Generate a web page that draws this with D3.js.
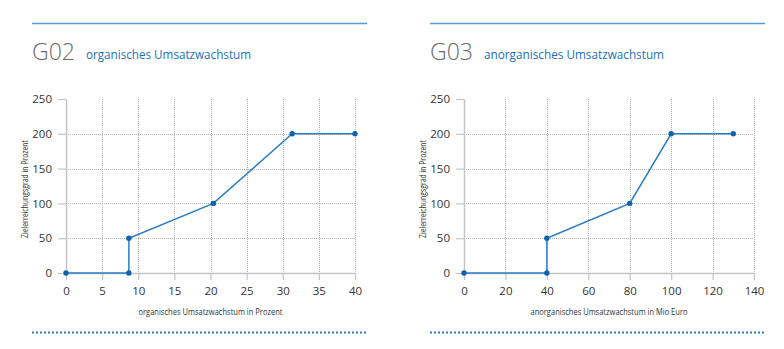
<!DOCTYPE html>
<html><head><meta charset="utf-8">
<script src="https://cdn.jsdelivr.net/npm/d3@7"></script>
<style>
body{margin:0;background:#fff;}
svg{display:block;font-family:"Open Sans","Noto Sans",sans-serif;}
</style></head>
<body><svg id="c" width="784" height="349"></svg>
<script>
// Data
const g02X = [0, 8.7, 8.7, 20.4, 31.3, 40];
const g02Y = [0, 0, 50, 100, 200, 200];
const g03X = [0, 40, 40, 80, 100, 130];
const g03Y = [0, 0, 50, 100, 200, 200];
const g02XTicks = [0, 5, 10, 15, 20, 25, 30, 35, 40];
const g03XTicks = [0, 20, 40, 60, 80, 100, 120, 140];
const yTicks = [0, 50, 100, 150, 200, 250];
const panelCodes = ["G02", "G03"];
const panelTitles = ["organisches Umsatzwachstum", "anorganisches Umsatzwachstum"];
const xTitles = ["organisches Umsatzwachstum in Prozent", "anorganisches Umsatzwachstum in Mio Euro"];
const yTitle = "Zielerreichungsgrad in Prozent";

const svg = d3.select("#c");
const panels = [
  {code: panelCodes[0], title: panelTitles[0], xTitle: xTitles[0], xs: g02X, ys: g02Y, xTicks: g02XTicks, dom: [0, 40],
   left: 32, right: 367, ax0: 66, ax1: 355, subX: 86, subLen: 165, xTitleLen: 144, yTitleX: 25},
  {code: panelCodes[1], title: panelTitles[1], xTitle: xTitles[1], xs: g03X, ys: g03Y, xTicks: g03XTicks, dom: [0, 140],
   left: 430, right: 765, ax0: 464, ax1: 754, subX: 484, subLen: 180, xTitleLen: 157, yTitleX: 423}
];
const blue = "#1b6fbd";
const y = d3.scaleLinear().domain([0, 250]).range([273, 99]);

panels.forEach(p => {
  const g = svg.append("g");
  const x = d3.scaleLinear().domain(p.dom).range([p.ax0, p.ax1]);
  // top rule
  g.append("line").attr("x1", p.left).attr("x2", p.right).attr("y1", 23.5).attr("y2", 23.5)
    .attr("stroke", "#5a9bd3").attr("stroke-width", 1.5);
  // bottom dotted rule
  g.append("line").attr("x1", p.left).attr("x2", p.right - 1).attr("y1", 332.5).attr("y2", 332.5)
    .attr("stroke", "#2a7fd0").attr("stroke-width", 2).attr("stroke-dasharray", "2,2");
  // headings
  g.append("text").attr("x", p.left).attr("y", 60).text(p.code)
    .attr("font-size", 23).attr("font-weight", 300).attr("fill", "#6b6b6b")
    .attr("textLength", 43).attr("lengthAdjust", "spacingAndGlyphs");
  g.append("text").attr("x", p.subX).attr("y", 59).text(p.title)
    .attr("font-size", 12.5).attr("fill", blue)
    .attr("textLength", p.subLen).attr("lengthAdjust", "spacingAndGlyphs");
  // grid
  g.append("g").selectAll("line").data(p.xTicks.filter(d => d > 0)).join("line")
    .attr("x1", d => Math.round(x(d)) + 0.5).attr("x2", d => Math.round(x(d)) + 0.5)
    .attr("y1", y(250)).attr("y2", y(0))
    .attr("stroke", "#b5b5b5").attr("stroke-dasharray", "1,1");
  g.append("g").selectAll("line").data(yTicks.filter(d => d > 0 && d < 250)).join("line")
    .attr("x1", p.ax0 + 2).attr("x2", p.ax1)
    .attr("y1", d => Math.round(y(d)) + 0.5).attr("y2", d => Math.round(y(d)) + 0.5)
    .attr("stroke", "#b5b5b5").attr("stroke-dasharray", "1,1");
  // axes
  const xa = g.append("g").attr("transform", "translate(0,273)")
    .call(d3.axisBottom(x).tickValues(p.xTicks).tickSize(7).tickPadding(6.5).tickSizeOuter(0));
  const ya = g.append("g").attr("transform", `translate(${p.ax0},0)`)
    .call(d3.axisLeft(y).tickValues(yTicks).tickSize(8).tickPadding(6).tickSizeOuter(0));
  [xa, ya].forEach(a => {
    a.select(".domain").attr("stroke", "#c4c4c4").attr("stroke-width", 1.5);
    a.selectAll(".tick line").attr("stroke", "#c4c4c4").attr("stroke-width", 1.2);
    a.selectAll(".tick text").attr("fill", "#333").attr("font-size", 11.5).attr("font-family", "'Open Sans',sans-serif");
  });
  // axis titles
  g.append("text").attr("x", (p.ax0 + p.ax1) / 2 + 0).attr("y", 315).attr("text-anchor", "middle")
    .attr("font-size", 9).attr("fill", "#333").text(p.xTitle)
    .attr("textLength", p.xTitleLen).attr("lengthAdjust", "spacingAndGlyphs");
  g.append("text").attr("transform", `translate(${p.yTitleX + 3},189) rotate(-90)`).attr("text-anchor", "middle")
    .attr("font-size", 9).attr("fill", "#333").text(yTitle)
    .attr("textLength", 98).attr("lengthAdjust", "spacingAndGlyphs");
  // line + points
  const pts = p.xs.map((v, i) => [v, p.ys[i]]);
  g.append("path").datum(pts)
    .attr("d", d3.line().x(d => x(d[0])).y(d => y(d[1])))
    .attr("fill", "none").attr("stroke", "#2b7cc6").attr("stroke-width", 1.5);
  g.append("g").selectAll("circle").data(pts).join("circle")
    .attr("cx", d => x(d[0])).attr("cy", d => y(d[1])).attr("r", 2.7).attr("fill", "#0d62b0");
});
</script></body></html>
